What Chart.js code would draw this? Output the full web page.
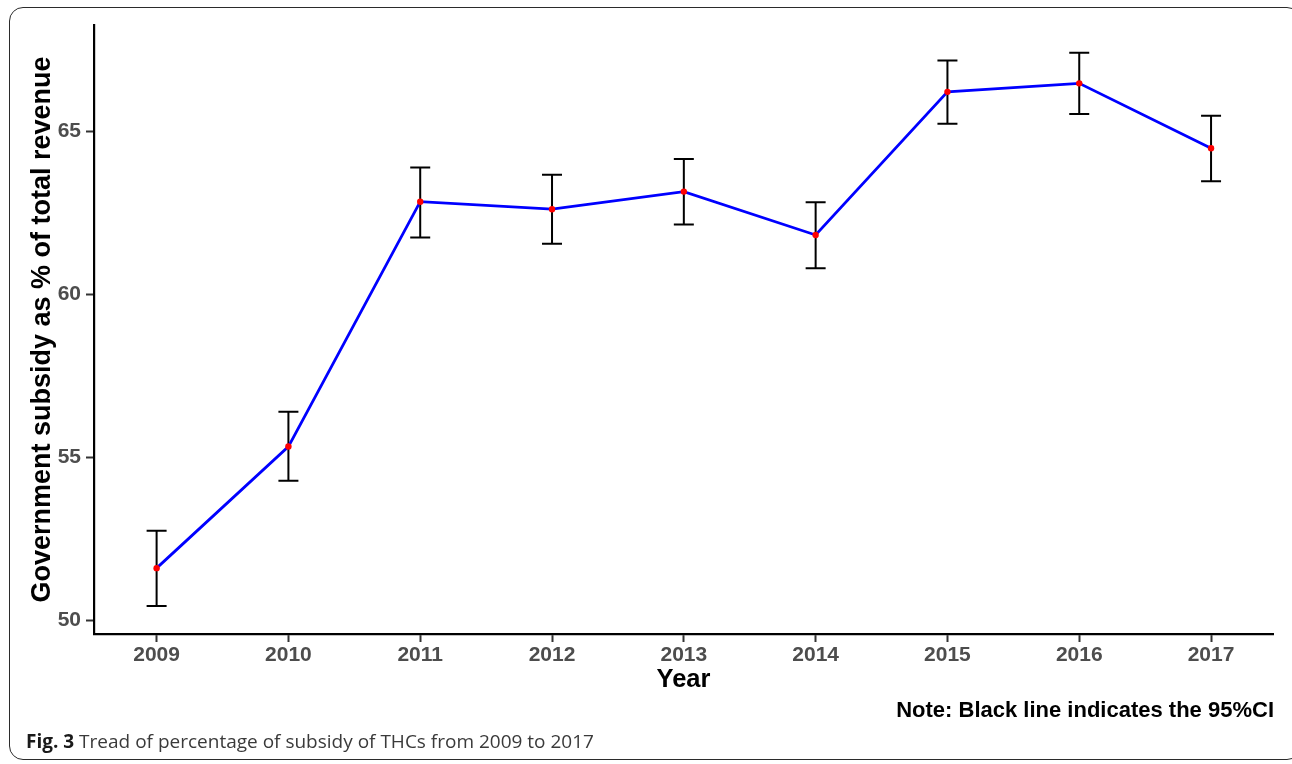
<!DOCTYPE html>
<html>
<head>
<meta charset="utf-8">
<title>Subsidy share of THC revenue, 2009-2017</title>
<script src="https://cdn.jsdelivr.net/npm/chart.js@4/dist/chart.umd.min.js"></script>
<style>
  html, body { margin: 0; padding: 0; background: #fff; }
  #wrap { position: relative; width: 1292px; height: 764px; overflow: hidden; }
  #frame {
    position: absolute; left: 9px; top: 7px; width: 1292px; height: 753px;
    border: 1.5px solid #2b2b2b; border-radius: 14px; box-sizing: border-box;
  }
  #plot { position: absolute; left: 0; top: 0; }
  #note {
    position: absolute; right: 18px; top: 697px; line-height: 22px;
    font: bold 22px "Liberation Sans", Arial, Helvetica, sans-serif; color: #000;
    white-space: nowrap;
  }
  #caption {
    position: absolute; left: 26px; top: 732px; line-height: 19px;
    font-family: "Open Sans", "Noto Sans", sans-serif; font-size: 19px; color: #3a3a3a;
    white-space: nowrap;
  }
  #caption b { color: #1a1a1a; font-weight: 700; }
</style>
</head>
<body>
<div id="wrap">
  <div id="frame"></div>
  <canvas id="plot" width="1292" height="764"></canvas>
  <div id="note">Note: Black line indicates the 95%CI</div>
  <div id="caption"><b>Fig. 3</b> Tread of percentage of subsidy of THCs from 2009 to 2017</div>
</div>
<script>
// Survey years
const years = [2009, 2010, 2011, 2012, 2013, 2014, 2015, 2016, 2017];
// Government subsidy as a share of total revenue (%)
const subsidyPct = [51.61, 55.34, 62.85, 62.62, 63.16, 61.83, 66.22, 66.48, 64.49];
// 95% confidence interval bounds
const ciLower = [50.45, 54.29, 61.75, 61.56, 62.15, 60.81, 65.24, 65.54, 63.48];
const ciUpper = [52.76, 56.41, 63.90, 63.68, 64.16, 62.83, 67.18, 67.42, 65.49];
// Axis tick values
const yTicks = [50, 55, 60, 65];
const xTicks = years;

const sansFamily = '"Liberation Sans", Arial, Helvetica, sans-serif';
Chart.defaults.font.family = sansFamily;

// Vertical 95% CI whiskers with caps, placed through the chart's own scales
const errorBars = {
  id: 'errorBars',
  beforeDatasetsDraw(chart) {
    const { ctx, scales: { x, y } } = chart;
    const cap = 10;
    ctx.save();
    ctx.strokeStyle = '#000';
    ctx.lineWidth = 2;
    ctx.lineCap = 'butt';
    years.forEach((yr, i) => {
      const px = x.getPixelForValue(yr);
      const lo = y.getPixelForValue(ciLower[i]);
      const hi = y.getPixelForValue(ciUpper[i]);
      ctx.beginPath();
      ctx.moveTo(px, lo); ctx.lineTo(px, hi);
      ctx.moveTo(px - cap, hi); ctx.lineTo(px + cap, hi);
      ctx.moveTo(px - cap, lo); ctx.lineTo(px + cap, lo);
      ctx.stroke();
    });
    ctx.restore();
  }
};

new Chart(document.getElementById('plot'), {
  type: 'line',
  data: {
    datasets: [{
      data: years.map((yr, i) => ({ x: yr, y: subsidyPct[i] })),
      borderColor: '#0000ff',
      borderWidth: 2.8,
      tension: 0,
      fill: false,
      pointRadius: 3.2,
      pointBackgroundColor: '#ff0000',
      pointBorderWidth: 0,
      pointHoverRadius: 3.2
    }]
  },
  options: {
    responsive: false,
    animation: false,
    devicePixelRatio: 1,
    layout: { padding: { left: 0, top: 25, right: 19, bottom: 0 } },
    plugins: { legend: { display: false }, tooltip: { enabled: false } },
    events: [],
    scales: {
      x: {
        type: 'linear',
        min: 2008.525,
        max: 2017.47,
        afterFit(s) { s.height = 130; },
        afterBuildTicks(s) { s.ticks = xTicks.map(v => ({ value: v })); },
        grid: { display: true, drawOnChartArea: false, drawTicks: true, tickLength: 8, tickColor: '#333', tickWidth: 2 },
        border: { display: true, color: '#000', width: 2.2 },
        ticks: {
          padding: 1,
          color: '#4d4d4d',
          font: { size: 21, weight: 'bold' },
          callback: v => String(v),
          maxRotation: 0
        },
        title: {
          display: true,
          text: 'Year',
          color: '#000',
          font: { size: 25.5, weight: 'bold' },
          padding: { top: 0, bottom: 69 }
        }
      },
      y: {
        type: 'linear',
        min: 49.59,
        max: 68.27,
        afterFit(s) { s.width = 94; },
        afterBuildTicks(s) { s.ticks = yTicks.map(v => ({ value: v })); },
        grid: { display: true, drawOnChartArea: false, drawTicks: true, tickLength: 8, tickColor: '#333', tickWidth: 2 },
        border: { display: true, color: '#000', width: 2.2 },
        ticks: {
          padding: 5,
          color: '#4d4d4d',
          font: { size: 21, weight: 'bold' }
        },
        title: {
          display: true,
          text: 'Government subsidy as % of total revenue',
          color: '#000',
          font: { size: 27, weight: 'bold' },
          padding: { top: 26, bottom: 0 }
        }
      }
    }
  },
  plugins: [errorBars]
});
</script>
</body>
</html>
